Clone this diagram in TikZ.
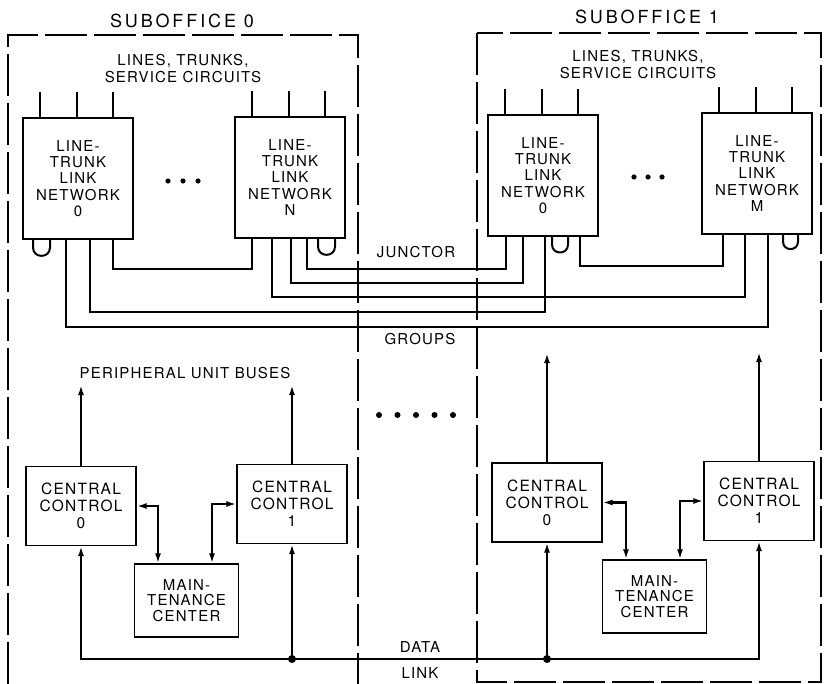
\documentclass[tikz,border=0pt]{standalone}
\usepackage{fontspec}
\setmainfont{TeX Gyre Heros}[LetterSpace=8]
\usetikzlibrary{arrows.meta,positioning,calc}

\begin{document}
\begin{tikzpicture}[
      x=1pt, y=-1pt,
      every node/.style={inner sep=0pt, font=\fontsize{15}{17}\selectfont},
      box/.style={draw, line width=1.2pt, align=center},
      ltln/.style={box, minimum width=110pt, minimum height=121pt, font=\fontsize{15}{16.3}\selectfont},
      cc/.style={box, minimum width=110pt, minimum height=79pt, font=\fontsize{15.5}{17}\selectfont},
      mc/.style={box, minimum width=104pt, minimum height=73pt, font=\fontsize{15}{15.5}\selectfont},
      wire/.style={line width=2pt},
      bus/.style={line width=2.2pt},
      arr/.style={bus, -{Latex[length=10pt,width=6pt]}},
      darr/.style={bus, {Latex[length=10pt,width=6pt]}-{Latex[length=10pt,width=6pt]}},
      sub/.style={line width=1.2pt, dash pattern=on 42pt off 7pt},
      title/.style={font=\fontsize{18}{20}\selectfont\addfontfeatures{LetterSpace=16}},
      lbl/.style={align=center, font=\fontsize{15}{17}\selectfont}
  ]
    \useasboundingbox (0,0) rectangle (824,684);

    % suboffice frames
    \draw[sub] (8,684) -- (8,35) -- (358,35) -- (358,684);
    \draw[sub] (477,33) rectangle (821,682);
    \node[title] (t0) at (182,21) {SUBOFFICE 0};
    \node[title] (t1) at (647,17) {SUBOFFICE 1};
    \node[lbl] (lts0) at (183,68.5) {LINES, TRUNKS,\\SERVICE CIRCUITS};
    \node[lbl] (lts1) at (638,65) {LINES, TRUNKS,\\SERVICE CIRCUITS};

    % line-trunk link networks
    \node[ltln] (s0n0) at (78,178.5)  {LINE-\\TRUNK\\LINK\\NETWORK\\0};
    \node[ltln] (s0nN) at (290,177.5) {LINE-\\TRUNK\\LINK\\NETWORK\\N};
    \node[ltln] (s1n0) at (543,175.5) {LINE-\\TRUNK\\LINK\\NETWORK\\0};
    \node[ltln] (s1nM) at (757,173.5) {LINE-\\TRUNK\\LINK\\NETWORK\\M};

    \foreach \n in {s0n0,s0nN,s1n0,s1nM}
      \foreach \dx in {-38,-1,35}
        \draw[wire] ([xshift=\dx]\n.north) -- ++(0,-25);

    \foreach \i in {-1,0,1} {
      \fill (183+15*\i,181) circle[radius=2.6];
      \fill (648+14*\i,177) circle[radius=2.6];
    }

    % loops
    \draw[wire] (s0n0.south -| 33,0) -- ++(0,8) .. controls +(0,11) and +(0,11) .. ++(17,0) -- (s0n0.south -| 50,0);
    \draw[wire] (s0nN.south -| 318,0) -- ++(0,8) .. controls +(0,11) and +(0,11) .. ++(17,0) -- (s0nN.south -| 335,0);
    \draw[wire] (s1n0.south -| 552,0) -- ++(0,8) .. controls +(0,10.5) and +(0,10.5) .. ++(16,0) -- (s1n0.south -| 568,0);
    \draw[wire] (s1nM.south -| 783,0) -- ++(0,7) .. controls +(0,10) and +(0,10) .. ++(15,0) -- (s1nM.south -| 798,0);

    % junctors
    \draw[wire] (s0n0.south -| 113,0) -- ++(0,29) -| (s0nN.south -| 252,0);
    \draw[wire] (s1n0.south -| 580,0) -- ++(0,29) -| (s1nM.south -| 723,0);
    \draw[wire] (s0nN.south -| 307,0) -- ++(0,30) -| (s1n0.south -| 506,0);
    \draw[wire] (s0nN.south -| 291,0) -- ++(0,44) -| (s1n0.south -| 523,0);
    \draw[wire] (s0nN.south -| 272,0) -- ++(0,58) -| (s1nM.south -| 745,0);
    \draw[wire] (s0n0.south -| 90,0)  -- ++(0,72) -| (s1n0.south -| 545,0);
    \draw[wire] (s0n0.south -| 66,0)  -- ++(0,87) -| (s1nM.south -| 768,0);
    \node[lbl] (junc) at (416,252) {JUNCTOR};
    \node[lbl] (grp) at (420,339) {GROUPS};

    \foreach \i in {0,...,4}
      \fill (379+18.5*\i,415) circle[radius=3];

    % central controls
    \node[lbl] (pub) at (185,373) {PERIPHERAL UNIT BUSES};
    \node[cc] (s0cc0) at (81,506)    {CENTRAL\\CONTROL\\0};
    \node[cc] (s0cc1) at (292,504)   {CENTRAL\\CONTROL\\1};
    \node[mc] (s0mc) at (186.5,600.5) {MAIN-\\TENANCE\\CENTER};
    \node[cc] (s1cc0) at (547,502.5) {CENTRAL\\CONTROL\\0};
    \node[cc] (s1cc1) at (759,501)   {CENTRAL\\CONTROL\\1};
    \node[mc] (s1mc) at (654.5,596.5) {MAIN-\\TENANCE\\CENTER};

    \coordinate (pu00) at (81,385);
    \coordinate (pu01) at (292,385);
    \coordinate (pu10) at (547,353);
    \coordinate (pu11) at (759,352);
    \draw[arr] (s0cc0) -- (pu00);
    \draw[arr] (s0cc1) -- (pu01);
    \draw[arr] (s1cc0) -- (pu10);
    \draw[arr] (s1cc1) -- (pu11);

    \draw[darr] (s0cc0.east) -| (s0mc.north -| 158,0);
    \draw[darr] (s0mc.north -| 212,0) |- (s0cc1.west);
    \draw[darr] (s1cc0.east) -| (s1mc.north -| 626,0);
    \draw[darr] (s1mc.north -| 680,0) |- (s1cc1.west);

    % data link
    \coordinate (dl0) at (292,659);
    \coordinate (dl1) at (547,659);
    \draw[arr] (dl0) -| (s0cc0);
    \draw[arr] (dl0) -- (s0cc1);
    \draw[bus] (dl0) -- (dl1);
    \draw[arr] (dl1) -- (s1cc0);
    \draw[arr] (dl1) -| (s1cc1);
    \fill (dl0) circle[radius=4];
    \fill (dl1) circle[radius=4];
    \node[lbl] (dat) at (420,647) {DATA};
    \node[lbl] (lnk) at (420,673) {LINK};
  \end{tikzpicture}
\end{document}
